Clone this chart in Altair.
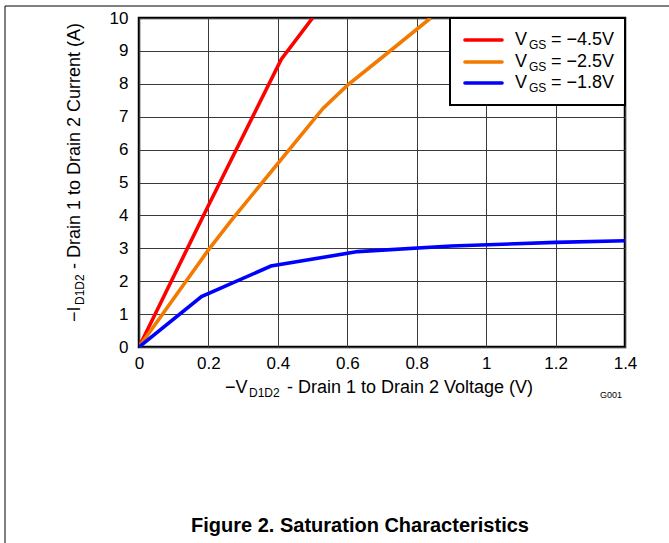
import altair as alt
import pandas as pd

FONT = "Liberation Sans"

# Saturation curves: -V_D1D2 (V) vs -I_D1D2 (A) for three gate voltages
series_names = ["VGS = -4.5V", "VGS = -2.5V", "VGS = -1.8V"]
series_colors = ["#FF0000", "#F27A00", "#0000FF"]

v_45 = [0.0, 0.20, 0.41, 0.50]
i_45 = [0.0, 4.30, 8.75, 10.0]

v_25 = [0.0, 0.20, 0.27, 0.53, 0.60, 0.70, 0.84]
i_25 = [0.0, 2.95, 3.90, 7.25, 7.95, 8.80, 10.0]

v_18 = [0.0, 0.18, 0.38, 0.63, 0.90, 1.20, 1.40]
i_18 = [0.0, 1.53, 2.46, 2.90, 3.07, 3.18, 3.23]

x_ticks = [0, 0.2, 0.4, 0.6, 0.8, 1.0, 1.2, 1.4]
y_ticks = list(range(0, 11))

legend_values = ["\u22124.5V", "\u22122.5V", "\u22121.8V"]

rows = []
for name, vs, cs in zip(series_names, [v_45, v_25, v_18], [i_45, i_25, i_18]):
    for order, (v, c) in enumerate(zip(vs, cs)):
        rows.append({"series": name, "v": v, "i": c, "order": order})
df = pd.DataFrame(rows)

W, H = 486, 329
color_scale = alt.Scale(domain=series_names, range=series_colors)

curves = alt.Chart(df).mark_line(strokeWidth=3.6, clip=True).encode(
    x=alt.X("v:Q",
            scale=alt.Scale(domain=[0, 1.4], nice=False, zero=True),
            axis=alt.Axis(values=x_ticks, format=".1~f", title=None, ticks=False,
                          domain=False, labelPadding=8, labelFontSize=17,
                          labelFont=FONT, labelColor="#000", labelFlush=False,
                          gridColor="#3a3a3a", gridWidth=1, gridOpacity=1)),
    y=alt.Y("i:Q",
            scale=alt.Scale(domain=[0, 10], nice=False),
            axis=alt.Axis(values=y_ticks, title=None, ticks=False,
                          domain=False, labelPadding=11, labelFontSize=17,
                          labelFont=FONT, labelColor="#000", labelFlush=False,
                          gridColor="#3a3a3a", gridWidth=1, gridOpacity=1)),
    color=alt.Color("series:N", scale=color_scale, legend=None),
    order="order:Q",
)


def text(t, x, y, size=18, align="left", angle=0, weight="normal"):
    return alt.Chart(pd.DataFrame({"t": [t]})).mark_text(
        font=FONT, fontSize=size, align=align, baseline="middle",
        angle=angle, fontWeight=weight, color="#000",
    ).encode(x=alt.value(x), y=alt.value(y), text="t:N")


layers = [curves]

# Legend box with line samples and subscripted labels
legend_box = alt.Chart(pd.DataFrame({"k": [0]})).mark_rect(
    fill="white", stroke="black", strokeWidth=2
).encode(x=alt.value(311), x2=alt.value(486), y=alt.value(0), y2=alt.value(87))
layers.append(legend_box)

row_y = [22, 44, 65]
for name, val, ry in zip(series_names, legend_values, row_y):
    sample = alt.Chart(pd.DataFrame({"series": [name]})).mark_rule(
        strokeWidth=3.6, strokeCap="round"
    ).encode(
        x=alt.value(326), x2=alt.value(363), y=alt.value(ry),
        color=alt.Color("series:N", scale=color_scale, legend=None),
    )
    layers += [
        sample,
        text("V", 376, ry),
        text("GS", 390, ry + 5, size=12),
        text("= " + val, 412, ry),
    ]

# Axis titles with subscripts
layers += [
    text("\u2212V", 86, 370),
    text("D1D2", 110, 375, size=12),
    text("- Drain 1 to Drain 2 Voltage (V)", 148, 370),
    text("\u2212I", -64, 304, angle=270),
    text("D1D2", -59, 287, size=12, angle=270),
    text("- Drain 1 to Drain 2 Current (A)", -64, 251, angle=270),
    text("G001", 483, 377, size=9, align="right"),
    text("Figure 2. Saturation Characteristics", 221, 508, size=20,
         align="center", weight="bold"),
]

# Outer figure frame (top and left edges)
frame_top = alt.Chart(pd.DataFrame({"k": [0]})).mark_rule(
    color="black", strokeWidth=1
).encode(x=alt.value(-134), x2=alt.value(540), y=alt.value(-12))
frame_left = alt.Chart(pd.DataFrame({"k": [0]})).mark_rule(
    color="black", strokeWidth=1
).encode(x=alt.value(-134), y=alt.value(-12), y2=alt.value(540))
layers += [frame_top, frame_left]

chart = alt.layer(*layers).properties(
    width=W, height=H,
    autosize=alt.AutoSizeParams(type="none"),
    padding={"left": 139, "top": 18, "right": 44, "bottom": 196},
    background="white",
).configure_view(
    stroke="black", strokeWidth=2.5
)

chart.save("out.html", embed_options={"renderer": "svg", "actions": False})
